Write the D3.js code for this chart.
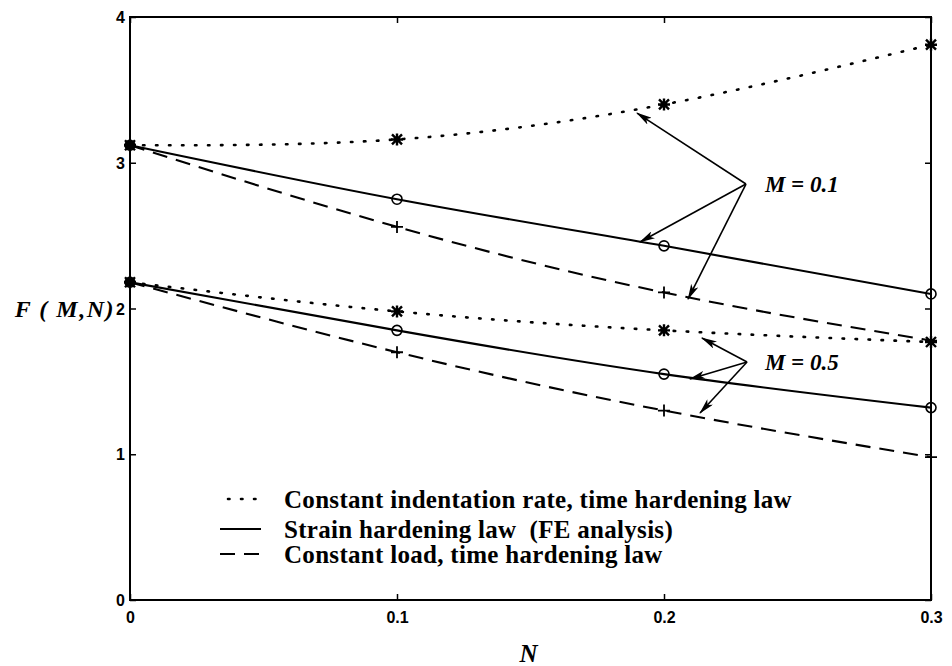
<!DOCTYPE html>
<html>
<head>
<meta charset="utf-8">
<script src="https://cdn.jsdelivr.net/npm/d3@7/dist/d3.min.js"></script>
<style>
  body { margin: 0; background: #fff; }
  svg { display: block; }
  .tick text { font-family: "Liberation Sans", Arial, sans-serif; font-weight: bold; font-size: 16px; fill: #000; }
  .serif { font-family: "Liberation Serif", "Times New Roman", serif; font-weight: bold; fill: #000; white-space: pre; }
</style>
</head>
<body>
<svg id="chart"></svg>
<script>
// N values on the x axis
const nValues = [0, 0.1, 0.2, 0.3];
const xTicks = [0, 0.1, 0.2, 0.3];
const yTicks = [0, 1, 2, 3, 4];

// F(M,N)
const rateM01 = [3.12, 3.16, 3.40, 3.81];
const strainM01 = [3.12, 2.75, 2.43, 2.10];
const loadM01 = [3.12, 2.56, 2.11, 1.78];
const rateM05 = [2.18, 1.98, 1.85, 1.77];
const strainM05 = [2.18, 1.85, 1.55, 1.32];
const loadM05 = [2.18, 1.70, 1.30, 0.98];

const legendLabels = [
  'Constant indentation rate, time hardening law',
  'Strain hardening law  (FE analysis)',
  'Constant load, time hardening law'
];

// annotation arrows in data coords: [fromN, fromF, toN, toF]
const arrowsM01 = [[0.2307, 2.854, 0.1899, 3.341], [0.2307, 2.854, 0.191, 2.456], [0.2307, 2.854, 0.209, 2.065]];
const arrowsM05 = [[0.2311, 1.633, 0.2142, 1.798], [0.2311, 1.633, 0.2097, 1.516], [0.2311, 1.633, 0.2135, 1.283]];

const W = 952, H = 666;
const margin = { top: 17, right: 21, bottom: 66, left: 130 };
const width = W - margin.left - margin.right;
const height = H - margin.top - margin.bottom;

const svg = d3.select('#chart').attr('width', W).attr('height', H);
const g = svg.append('g').attr('transform', `translate(${margin.left},${margin.top})`);

const x = d3.scaleLinear().domain([0, 0.3]).range([0, width]);
const y = d3.scaleLinear().domain([0, 4]).range([height, 0]);

// frame
g.append('rect')
  .attr('width', width).attr('height', height)
  .attr('fill', 'none').attr('stroke', '#000').attr('stroke-width', 2);

// axes with inward ticks
const xAxis = g.append('g').attr('transform', `translate(0,${height})`)
  .call(d3.axisBottom(x).tickValues(xTicks).tickSize(-6).tickPadding(12).tickFormat(d => d === 0 ? '0' : d3.format('.1f')(d)));
const yAxis = g.append('g')
  .call(d3.axisLeft(y).tickValues(yTicks).tickSize(-6).tickPadding(5).tickFormat(d3.format('d')));
g.append('g').attr('transform', `translate(${width},0)`)
  .call(d3.axisRight(y).tickValues(yTicks).tickSize(-6).tickFormat(''));
g.append('g')
  .call(d3.axisTop(x).tickValues(xTicks).tickSize(-6).tickFormat(''));
g.selectAll('.domain').remove();
g.selectAll('.tick line').attr('stroke', '#000').attr('stroke-width', 1.5);
xAxis.selectAll('.tick text').attr('dy', '0.71em');
yAxis.selectAll('.tick text').attr('dy', '0.35em');

const line = d3.line().x(d => x(d.n)).y(d => y(d.f)).curve(d3.curveNatural);
const pts = vals => nValues.map((n, i) => ({ n, f: vals[i] }));

const styles = {
  rate: { dash: '1.5,11.5', width: 2.6, cap: 'round' },
  strain: { dash: null, width: 2.1, cap: 'butt' },
  load: { dash: '15,9', width: 2.1, cap: 'butt' }
};

const series = [
  { vals: rateM01, kind: 'rate' },
  { vals: strainM01, kind: 'strain' },
  { vals: loadM01, kind: 'load' },
  { vals: rateM05, kind: 'rate' },
  { vals: strainM05, kind: 'strain' },
  { vals: loadM05, kind: 'load' }
];

series.forEach(s => {
  const st = styles[s.kind];
  g.append('path')
    .datum(pts(s.vals))
    .attr('d', line)
    .attr('fill', 'none')
    .attr('stroke', '#000')
    .attr('stroke-width', st.width)
    .attr('stroke-linecap', st.cap)
    .attr('stroke-dasharray', st.dash);

  const m = g.selectAll(null).data(pts(s.vals)).enter().append('g')
    .attr('transform', d => `translate(${x(d.n)},${y(d.f)})`);
  if (s.kind === 'strain') {
    m.append('circle').attr('r', 5).attr('fill', d => d.n === 0 ? '#000' : 'none')
      .attr('stroke', '#000').attr('stroke-width', 1.6);
  } else if (s.kind === 'load') {
    m.append('path').attr('d', 'M-6,0H6M0,-6V6').attr('stroke', '#000').attr('stroke-width', 1.8);
  } else {
    m.append('path').attr('d', 'M-5,-5L5,5M-5,5L5,-5M-6,0H6M0,-6V6').attr('stroke', '#000').attr('stroke-width', 2.4);
  }
});

// arrows
const defs = svg.append('defs');
defs.append('marker')
  .attr('id', 'head').attr('viewBox', '0 0 16 8').attr('refX', 15).attr('refY', 4)
  .attr('markerWidth', 16).attr('markerHeight', 8).attr('markerUnits', 'userSpaceOnUse').attr('orient', 'auto')
  .append('path').attr('d', 'M0,0L16,4L0,8L4,4Z').attr('fill', '#000');

g.selectAll('.arrow').data(arrowsM01.concat(arrowsM05)).enter().append('line')
  .attr('x1', d => x(d[0])).attr('y1', d => y(d[1]))
  .attr('x2', d => x(d[2])).attr('y2', d => y(d[3]))
  .attr('stroke', '#000').attr('stroke-width', 1.6)
  .attr('marker-end', 'url(#head)');

g.append('text').attr('class', 'serif').attr('x', x(0.2378)).attr('y', y(2.80))
  .style('font-size', '23px').style('font-style', 'italic').text('M = 0.1');
g.append('text').attr('class', 'serif').attr('x', x(0.2378)).attr('y', y(1.58))
  .style('font-size', '23px').style('font-style', 'italic').text('M = 0.5');

// legend
const legend = g.selectAll('.leg').data(legendLabels).enter().append('g')
  .attr('transform', (d, i) => `translate(0,${[482, 512, 537][i]})`);
legend.append('line')
  .attr('x1', (d, i) => i === 0 ? 98 : 90).attr('x2', (d, i) => i === 0 ? 128 : 131)
  .attr('stroke', '#000')
  .attr('stroke-width', (d, i) => i === 0 ? 2.6 : 2)
  .attr('stroke-linecap', (d, i) => i === 0 ? 'round' : 'butt')
  .attr('stroke-dasharray', (d, i) => [styles.rate.dash, null, '15,9'][i]);
legend.append('text').attr('class', 'serif')
  .attr('x', 154).attr('dy', '0.35em')
  .style('font-size', '25px')
  .style('letter-spacing', '0.3px')
  .text(d => d);

// axis titles
svg.append('text').attr('class', 'serif')
  .attr('x', margin.left + width / 2 - 11).attr('y', 662)
  .style('font-size', '25px').style('font-style', 'italic').text('N');
svg.append('text').attr('class', 'serif')
  .attr('x', 115).attr('y', y(2) + margin.top).attr('dy', '0.35em')
  .attr('text-anchor', 'end')
  .style('font-size', '24px').style('font-style', 'italic')
  .style('letter-spacing', '1.5px')
  .text('F ( M,N)');
</script>
</body>
</html>
